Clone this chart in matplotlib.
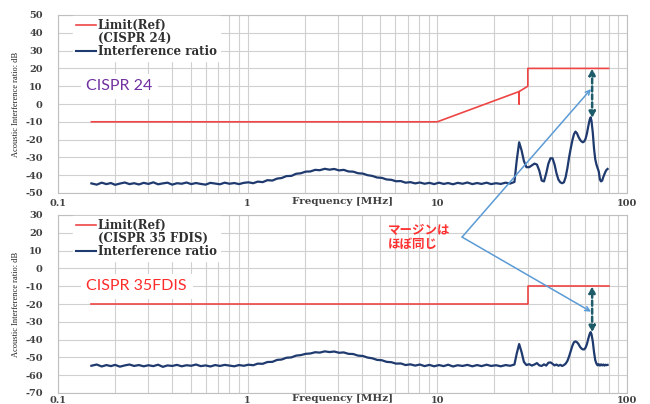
import matplotlib
matplotlib.use("Agg")
import matplotlib.pyplot as plt
from matplotlib.patches import ConnectionPatch
from matplotlib.ticker import FixedLocator, NullFormatter

# ---------------- data ----------------
lim24_f = [0.15, 10, 27, 27, 27, 30, 30, 80]
lim24_v = [-10, -10, 7, 0, 7, 10, 20, 20]
lim35_f = [0.15, 30, 30, 80]
lim35_v = [-20, -20, -10, -10]

freq = [0.150, 0.160, 0.170, 0.180, 0.190, 0.200, 0.212, 0.225, 0.238, 0.252,
        0.267, 0.283, 0.300, 0.318, 0.337, 0.357, 0.378, 0.400, 0.424, 0.449,
        0.476, 0.504, 0.534, 0.566, 0.600, 0.636, 0.674, 0.714, 0.757, 0.802,
        0.850, 0.900, 0.954,
        1.01, 1.07, 1.13, 1.20, 1.27, 1.35, 1.43, 1.51, 1.60, 1.70,
        1.80, 1.91, 2.02, 2.14, 2.27, 2.40, 2.55, 2.70, 2.86, 3.03,
        3.21, 3.40, 3.60, 3.82, 4.05, 4.29, 4.54, 4.81, 5.10, 5.40,
        5.72, 6.06, 6.42, 6.80, 7.21, 7.64, 8.09, 8.57, 9.08, 9.62,
        10.2, 10.8, 11.4, 12.1, 12.8, 13.6, 14.4, 15.3, 16.2, 17.1,
        18.2, 19.2, 20.4, 21.6, 22.9, 24.2, 25.5,
        26.2, 27, 27.8, 28.6, 29.5, 30.5, 31.5, 32.5, 33.5, 34.5,
        35.5, 36.5, 37.5, 38.5, 39.5, 40.5, 41.5, 42.5, 43.5, 44.5,
        45.5, 46.5, 47.5, 48.5, 49.5, 50.5, 51.5, 52.5, 53.5, 54.5,
        55.5, 56.5, 57.5, 58.5, 59.5, 60.5, 61.5, 62.5, 63.5, 64.3,
        65.0, 66.0, 67.0, 68.0, 69.0, 70.0, 71.0, 72.0, 73.0, 74.0,
        75.0, 76.0, 77.0, 78.0, 79.0]

ratio24 = [-44.6, -45.3, -44.2, -45.0, -44.4, -45.4, -44.7, -44.1, -45.0, -44.5,
           -45.2, -44.3, -44.9, -44.0, -45.1, -44.6, -44.2, -45.3, -44.5, -44.8,
           -44.1, -45.0, -44.4, -44.9, -45.3, -44.3, -44.7, -45.1, -44.2, -44.8,
           -44.4, -45.0, -44.3,
           -44.0, -44.5, -43.6, -43.9, -42.8, -43.0, -41.9, -41.6, -40.5, -40.4,
           -39.2, -38.9, -38.0, -37.9, -37.0, -37.2, -36.4, -36.9, -36.5, -37.3,
           -37.0, -37.9, -38.0, -38.9, -39.1, -40.0, -40.4, -41.3, -41.5, -42.4,
           -42.6, -43.4, -43.3, -44.2, -43.9, -44.6, -44.1, -44.8, -44.3, -45.0,
           -44.2, -44.9, -44.4, -45.1, -44.3, -44.8, -44.1, -45.0, -44.4, -44.9,
           -44.2, -45.0, -44.5, -44.9, -44.2, -44.7, -43.8,
           -32, -21.5, -26, -32, -35.5, -35.5, -34.5, -33.5, -34, -37.5,
           -43, -43.5, -39, -33.5, -30.5, -30.5, -34, -39, -42.5, -44,
           -44.5, -44, -41, -36, -30, -25, -20.5, -17, -15.5, -16.5,
           -18.5, -20, -21, -21.5, -21, -19.5, -16.5, -12.5, -9, -7.5,
           -9.5, -16, -25, -31, -34, -36, -38, -42.5, -43.5, -43,
           -41, -39.5, -38, -37, -36.5]

ratio35 = [-54.7, -54.0, -55.1, -54.3, -54.9, -54.2, -55.2, -54.5, -54.0, -54.8,
           -54.3, -55.0, -54.4, -54.9, -54.1, -55.3, -54.5, -54.8, -54.2, -55.0,
           -54.4, -54.7, -54.0, -54.9, -54.5, -55.1, -54.3, -54.8, -54.2, -54.6,
           -55.0, -54.3, -54.7,
           -54.1, -54.4, -53.5, -53.6, -52.6, -52.5, -51.4, -51.2, -50.2, -50.0,
           -49.0, -48.7, -48.0, -47.8, -47.1, -47.3, -46.6, -47.0, -46.7, -47.4,
           -47.2, -48.0, -48.1, -49.0, -49.2, -50.1, -50.5, -51.4, -51.6, -52.5,
           -52.7, -53.5, -53.4, -54.3, -53.9, -54.6, -54.0, -54.9, -54.2, -55.0,
           -54.3, -54.9, -54.1, -55.1, -54.4, -54.8, -54.2, -55.0, -54.3, -54.9,
           -54.1, -54.8, -54.4, -55.0, -54.3, -54.7, -54.0,
           -48, -42.5, -47, -52.5, -54.3, -53.8, -54.6, -54.0, -53.2, -54.5,
           -54.8, -53.9, -54.6, -53.0, -52.8, -53.6, -54.5, -54.0, -54.7, -54.2,
           -54.8, -54.3, -53.5, -52.0, -49.5, -46.5, -43.5, -41.5, -41, -41.5,
           -42.5, -44, -45, -45.5, -45.5, -44.5, -42.5, -39.5, -37, -35.8,
           -37, -41, -47, -51.5, -53.5, -54.5, -53.8, -54.6, -53.9, -54.5,
           -54.0, -54.6, -54.1, -54.4, -54.2]

margin_f = 65.5
margin24 = [20, -8]
margin35 = [-10, -36]

xtick_vals = [0.1, 1, 10, 100]
xtick_labels = ["0.1", "1", "10", "100"]
yticks24 = list(range(-50, 51, 10))
yticks35 = list(range(-70, 31, 10))

# ---------------- style ----------------
RED = "#EE4545"
NAVY = "#1F3A6E"
TEAL = "#1E5C6A"
LBLUE = "#5B9BD5"
GRID = "#D0D0D0"
TICKC = "#404040"
SERIF_B = dict(family="DejaVu Serif", weight="bold")

fig = plt.figure(figsize=(6.5, 4.04), dpi=100)
ax1 = fig.add_axes([58 / 650, 1 - 193 / 404, 569 / 650, 178 / 404])
ax2 = fig.add_axes([58 / 650, 1 - 393 / 404, 569 / 650, 178 / 404])


def style(ax, yticks, lim_label, tag, tag_color, xpad, xlab_y):
    ax.set_xscale("log")
    ax.set_xlim(0.1, 100)
    ax.set_ylim(yticks[0], yticks[-1])
    ax.xaxis.set_major_locator(FixedLocator(xtick_vals))
    ax.set_xticklabels(xtick_labels)
    ax.xaxis.set_minor_locator(FixedLocator(
        [m * d for d in (0.1, 1, 10) for m in range(2, 10)]))
    ax.xaxis.set_minor_formatter(NullFormatter())
    ax.set_yticks(yticks)
    ax.set_yticklabels([str(v) for v in yticks])
    ax.grid(True, which="both", color=GRID, lw=0.8)
    ax.set_axisbelow(True)
    ax.tick_params(which="both", length=0)
    ax.tick_params(axis="y", pad=11, labelsize=7, labelcolor=TICKC)
    ax.tick_params(axis="x", pad=xpad, labelsize=7, labelcolor=TICKC)
    for lab in ax.get_xticklabels() + ax.get_yticklabels():
        lab.set_fontfamily("DejaVu Serif")
        lab.set_fontweight("bold")
    for s in ax.spines.values():
        s.set_color("#BFBFBF")
        s.set_linewidth(0.8)
    ax.set_xlabel("Frequency [MHz]", fontsize=7.5, color=TICKC, **SERIF_B)
    ax.xaxis.set_label_coords(0.5, xlab_y)
    ax.xaxis.label.set_va("center")
    ax.set_ylabel("Acoustic Interference ratio: dB", family="Liberation Serif",
                  fontsize=6, color="#202020")
    ax.yaxis.set_label_coords(-38 / 569, 0.5)
    h1, = ax.plot([], [], color=RED, lw=1.2)
    h0, = ax.plot([], [], color="none")
    h2, = ax.plot([], [], color=NAVY, lw=1.5)
    leg = ax.legend([h1, h0, h2], ["Limit(Ref)", lim_label, "Interference ratio"],
                    loc="upper left", bbox_to_anchor=(0.027, 0.995),
                    prop=dict(family="DejaVu Serif", weight="bold", size=8.5),
                    frameon=True, fancybox=False, edgecolor="white",
                    facecolor="white", framealpha=1, handlelength=1.7,
                    handletextpad=0.1, labelspacing=0.0, borderpad=0.25,
                    borderaxespad=0)
    for t in leg.get_texts():
        t.set_color("#303030")
    ax.text(0.05, 0.6, tag, transform=ax.transAxes,
            family="Lato", fontsize=11.5, color=tag_color, va="center", ha="left",
            bbox=dict(facecolor="white", edgecolor="none", pad=4))


style(ax1, yticks24, "(CISPR 24)", "CISPR 24", "#7030A0", 4, -0.05)
style(ax2, yticks35, "(CISPR 35 FDIS)", "CISPR 35FDIS", "#FF2A2A", 2, -0.032)

ax1.plot(lim24_f, lim24_v, color=RED, lw=1.2)
ax1.plot(freq, ratio24, color=NAVY, lw=1.6)
ax2.plot(lim35_f, lim35_v, color=RED, lw=1.2)
ax2.plot(freq, ratio35, color=NAVY, lw=1.6)

for ax, mv in ((ax1, margin24), (ax2, margin35)):
    ax.annotate("", xy=(margin_f, mv[0]), xytext=(margin_f, mv[1]),
                arrowprops=dict(arrowstyle="<|-|>", color=TEAL, lw=1.8,
                                linestyle=(0, (2, 1.2)), mutation_scale=9,
                                shrinkA=0, shrinkB=0))

ax2.text(5.5, 17.4, "マージンは\nほぼ同じ", color="#FF3030", fontsize=9,
         family=["Noto Sans CJK JP", "DejaVu Sans"], weight="bold",
         va="center", ha="left", linespacing=1.15)

vertex = (13.5, 17.6)
for axB, end in ((ax1, (64.6, 8.4)), (ax2, (64.6, -24.3))):
    cp = ConnectionPatch(xyA=vertex, coordsA=ax2.transData,
                         xyB=end, coordsB=axB.transData,
                         arrowstyle="->", color=LBLUE, lw=1.1,
                         mutation_scale=8, shrinkA=0, shrinkB=0)
    fig.add_artist(cp)

fig.savefig("out.png", dpi=100)
